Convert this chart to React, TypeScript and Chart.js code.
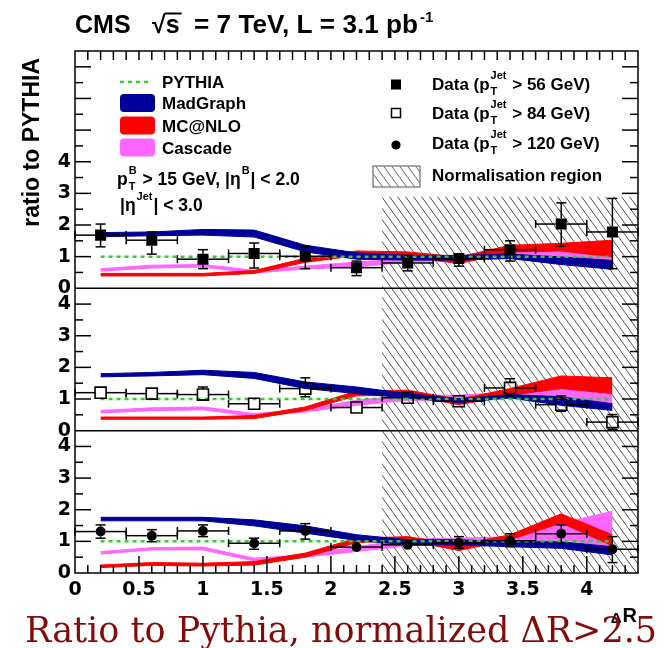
import React, { useEffect, useRef } from 'react';
import { Chart, registerables } from 'chart.js';

Chart.register(...registerables);

// ---- binning and axis labels ----
const binCentres = [0.2, 0.6, 1.0, 1.4, 1.8, 2.2, 2.6, 3.0, 3.4, 3.8, 4.2];
const binHalfWidth = 0.2;
const xTickValues = [0, 0.5, 1, 1.5, 2, 2.5, 3, 3.5, 4];
const yTickValues = [0, 1, 2, 3, 4];
const normRegion = [2.4, 4.4];
const pythiaLevel = 1;

// ---- data: leading jet pT > 56 GeV (upper panel) ----
const data56 = [1.68, 1.52, 0.92, 1.10, 1.01, 0.65, 0.80, 0.94, 1.22, 2.03, 1.78];
const data56Hi = [2.03, 1.78, 1.22, 1.43, 1.33, 0.86, 1.04, 1.10, 1.50, 2.70, 2.84];
const data56Lo = [1.31, 1.08, 0.62, 0.64, 0.62, 0.40, 0.55, 0.70, 0.86, 1.33, 0.62];

// ---- data: pT > 84 GeV (middle panel) ----
const data84 = [1.20, 1.17, 1.14, 0.85, 1.33, 0.73, 1.04, 0.93, 1.35, 0.82, 0.27];
const data84Hi = [1.30, 1.27, 1.38, 0.95, 1.67, 0.83, 1.19, 1.03, 1.64, 1.10, 0.51];
const data84Lo = [1.10, 1.07, 0.96, 0.75, 1.07, 0.63, 0.89, 0.83, 1.10, 0.61, 0.04];

// ---- data: pT > 120 GeV (lower panel) ----
const data120 = [1.31, 1.18, 1.33, 0.94, 1.33, 0.82, 0.89, 0.96, 1.02, 1.24, 0.75];
const data120Hi = [1.52, 1.37, 1.52, 1.10, 1.56, 0.92, 0.99, 1.15, 1.24, 1.52, 1.15];
const data120Lo = [1.10, 0.99, 1.15, 0.75, 1.07, 0.72, 0.79, 0.78, 0.83, 0.94, 0.33];

// ---- MC predictions (ratio to PYTHIA), lower / upper band edges ----
const madgraph56Lo = [1.63, 1.66, 1.68, 1.62, 1.15, 0.92, 0.89, 0.89, 0.94, 0.75, 0.60];
const madgraph56Hi = [1.76, 1.78, 1.86, 1.84, 1.36, 1.12, 1.04, 1.04, 1.08, 0.99, 0.88];
const mcatnlo56Lo = [0.39, 0.39, 0.39, 0.47, 0.82, 1.03, 0.99, 0.78, 1.14, 1.18, 0.99];
const mcatnlo56Hi = [0.47, 0.47, 0.47, 0.56, 0.95, 1.18, 1.15, 0.99, 1.36, 1.42, 1.52];
const cascade56Lo = [0.54, 0.64, 0.67, 0.48, 0.61, 0.67, 0.83, 0.89, 0.99, 0.94, 0.62];
const cascade56Hi = [0.62, 0.73, 0.75, 0.57, 0.70, 0.83, 0.94, 0.99, 1.15, 1.20, 1.15];

const madgraph84Lo = [1.70, 1.73, 1.77, 1.65, 1.33, 1.17, 1.03, 0.89, 1.03, 0.80, 0.64];
const madgraph84Hi = [1.80, 1.84, 1.91, 1.84, 1.54, 1.38, 1.17, 1.01, 1.14, 1.07, 0.85];
const mcatnlo84Lo = [0.36, 0.36, 0.36, 0.38, 0.64, 1.10, 1.12, 0.82, 1.12, 1.33, 1.17];
const mcatnlo84Hi = [0.43, 0.43, 0.43, 0.48, 0.75, 1.25, 1.28, 0.99, 1.33, 1.73, 1.67];
const cascade84Lo = [0.56, 0.63, 0.66, 0.45, 0.59, 0.80, 0.96, 0.96, 1.07, 1.01, 0.70];
const cascade84Hi = [0.64, 0.72, 0.75, 0.54, 0.67, 0.96, 1.12, 1.12, 1.22, 1.41, 1.28];

const madgraph120Lo = [1.65, 1.65, 1.65, 1.49, 1.26, 1.03, 0.89, 0.89, 0.83, 0.78, 0.57];
const madgraph120Hi = [1.76, 1.76, 1.76, 1.68, 1.49, 1.21, 1.05, 1.05, 0.99, 0.99, 0.83];
const mcatnlo120Lo = [0.17, 0.24, 0.22, 0.25, 0.50, 0.96, 1.03, 0.71, 1.05, 1.58, 0.86];
const mcatnlo120Hi = [0.25, 0.33, 0.31, 0.36, 0.63, 1.10, 1.15, 0.89, 1.21, 1.87, 1.21];
const cascade120Lo = [0.60, 0.73, 0.73, 0.38, 0.50, 0.68, 0.86, 0.89, 0.94, 1.05, 0.83];
const cascade120Hi = [0.68, 0.80, 0.82, 0.47, 0.57, 0.83, 1.07, 1.10, 1.15, 1.58, 1.95];

// ---- styling ----
const SANS = '"Liberation Sans", Arial, Helvetica, sans-serif';
const TICK_FONT = '"DejaVu Sans", sans-serif';
const SERIF = '"DejaVu Serif", serif';
const C_MADGRAPH = '#000099';
const C_MCATNLO = '#ff0000';
const C_CASCADE = '#ff66ff';
const C_PYTHIA = '#33cc33';
const HATCH_TOP_PANEL = 2.9;

type Part = string | { sup?: string; sub?: string };

const pts = (ys: number[]) => ys.map((y, i) => ({ x: binCentres[i], y }));

function band(axis: string, lo: number[], hi: number[], colour: string, order: number) {
  return [
    { type: 'line', data: pts(lo), yAxisID: axis, borderColor: colour, borderWidth: 1, pointRadius: 0, fill: false, tension: 0, order },
    { type: 'line', data: pts(hi), yAxisID: axis, borderColor: colour, borderWidth: 1, pointRadius: 0, fill: '-1', backgroundColor: colour, tension: 0, order },
  ];
}

function pythia(axis: string) {
  return {
    type: 'line', yAxisID: axis, order: 1,
    data: [{ x: binCentres[0], y: pythiaLevel }, { x: binCentres[binCentres.length - 1], y: pythiaLevel }],
    borderColor: C_PYTHIA, borderWidth: 2.5, borderDash: [4, 4], pointRadius: 0, fill: false,
  };
}

function measured(axis: string, vals: number[], hi: number[], lo: number[], style: string, filled: boolean) {
  const isRect = style === 'rect';
  return {
    type: 'line', yAxisID: axis, order: 0, showLine: false,
    data: pts(vals),
    pointStyle: style,
    pointRadius: isRect ? 7.8 : 5,
    pointBackgroundColor: filled ? '#000' : 'rgba(0,0,0,0)',
    pointBorderColor: '#000',
    pointBorderWidth: filled ? 0 : 1.6,
    errHi: hi, errLo: lo,
    markerHalf: isRect ? 5.5 : 5,
  };
}

function drawRich(ctx: CanvasRenderingContext2D, parts: Part[], x: number, y: number, size: number) {
  let cx = x;
  const small = Math.round(size * 0.64);
  for (const p of parts) {
    if (typeof p === 'string') {
      ctx.font = `bold ${size}px ${SANS}`;
      ctx.fillText(p, cx, y);
      cx += ctx.measureText(p).width;
    } else {
      ctx.font = `bold ${small}px ${SANS}`;
      let w = 0;
      if (p.sup) {
        ctx.fillText(p.sup, cx + 1, y - size * 0.62);
        w = Math.max(w, ctx.measureText(p.sup).width);
      }
      if (p.sub) {
        ctx.fillText(p.sub, cx + 1, y + size * 0.3);
        w = Math.max(w, ctx.measureText(p.sub).width);
      }
      cx += w + 2;
    }
  }
  return cx - x;
}

function fitText(ctx: CanvasRenderingContext2D, text: string, x: number, y: number, width: number) {
  const w = ctx.measureText(text).width;
  ctx.save();
  ctx.translate(x, y);
  ctx.scale(width / w, 1);
  ctx.fillText(text, 0, 0);
  ctx.restore();
}

function line(ctx: CanvasRenderingContext2D, x0: number, y0: number, x1: number, y1: number) {
  ctx.beginPath();
  ctx.moveTo(x0, y0);
  ctx.lineTo(x1, y1);
  ctx.stroke();
}

function hatch(ctx: CanvasRenderingContext2D, x0: number, x1: number, y0: number, y1: number, colour = '#555') {
  const slope = 0.72;
  const step = 8;
  ctx.save();
  ctx.beginPath();
  ctx.rect(x0, y0, x1 - x0, y1 - y0);
  ctx.clip();
  ctx.strokeStyle = colour;
  ctx.lineWidth = 1;
  ctx.beginPath();
  // lines x - slope*y = c, shared phase so panels line up
  const cMin = x0 - slope * y1 - step;
  const cMax = x1 - slope * y0 + step;
  for (let c = Math.floor(cMin / step) * step; c <= cMax; c += step) {
    ctx.moveTo(c + slope * y0, y0);
    ctx.lineTo(c + slope * y1, y1);
  }
  ctx.stroke();
  ctx.restore();
}

const decorations = {
  id: 'cmsDecorations',
  beforeDatasetsDraw(chart: any) {
    const ctx: CanvasRenderingContext2D = chart.ctx;
    const xs = chart.scales.x;
    const x0 = xs.getPixelForValue(normRegion[0]);
    const x1 = xs.getPixelForValue(normRegion[1]);
    const top = chart.scales.yTop;
    hatch(ctx, x0, x1, top.getPixelForValue(HATCH_TOP_PANEL), top.getPixelForValue(0));
    for (const id of ['yMid', 'yBot']) {
      const s = chart.scales[id];
      hatch(ctx, x0, x1, s.getPixelForValue(s.max), s.getPixelForValue(0));
    }
  },
  beforeDatasetDraw(chart: any, args: any) {
    const ds = chart.data.datasets[args.index];
    if (!ds.errHi) return;
    const ctx: CanvasRenderingContext2D = chart.ctx;
    const xs = chart.scales.x;
    const ys = chart.scales[ds.yAxisID];
    const h = ds.markerHalf;
    ctx.save();
    ctx.strokeStyle = '#000';
    ctx.lineWidth = 1.5;
    ds.data.forEach((p: any, i: number) => {
      const px = xs.getPixelForValue(p.x);
      const py = ys.getPixelForValue(p.y);
      const yHi = ys.getPixelForValue(ds.errHi[i]);
      const yLo = ys.getPixelForValue(ds.errLo[i]);
      const xL = xs.getPixelForValue(p.x - binHalfWidth);
      const xR = xs.getPixelForValue(p.x + binHalfWidth);
      if (yHi < py - h) {
        line(ctx, px, py - h, px, yHi);
        line(ctx, px - 5, yHi, px + 5, yHi);
      }
      if (yLo > py + h) {
        line(ctx, px, py + h, px, yLo);
        line(ctx, px - 5, yLo, px + 5, yLo);
      }
      line(ctx, xL, py, px - h, py);
      line(ctx, px + h, py, xR, py);
      line(ctx, xL, py - 4, xL, py + 4);
      line(ctx, xR, py - 4, xR, py + 4);
    });
    ctx.restore();
  },
  afterDraw(chart: any) {
    const ctx: CanvasRenderingContext2D = chart.ctx;
    const { left, right, top, bottom } = chart.chartArea;
    const xs = chart.scales.x;
    ctx.save();
    ctx.strokeStyle = '#000';
    ctx.lineWidth = 1.5;
    ctx.strokeRect(left, top, right - left, bottom - top);
    // panel separators
    for (const id of ['yMid', 'yBot']) {
      const y = chart.scales[id].getPixelForValue(chart.scales[id].max);
      line(ctx, left, y, right, y);
    }
    // y ticks (inward, both sides)
    for (const id of ['yTop', 'yMid', 'yBot']) {
      const s = chart.scales[id];
      for (let v = 0.5; v < s.max - 1e-6; v += 0.5) {
        const py = s.getPixelForValue(v);
        const len = Number.isInteger(v) ? 16 : 8;
        line(ctx, left, py, left + len, py);
        line(ctx, right, py, right - len, py);
      }
    }
    // x ticks (inward, bottom and top)
    for (let i = 1; i < 44; i++) {
      const v = i / 10;
      const px = xs.getPixelForValue(v);
      const len = i % 5 === 0 ? 17 : 8;
      line(ctx, px, bottom, px, bottom - len);
      line(ctx, px, top, px, top + 9);
    }

    // header
    ctx.fillStyle = '#000';
    ctx.textAlign = 'left';
    ctx.textBaseline = 'alphabetic';
    ctx.font = `bold 25px ${SANS}`;
    ctx.fillText('CMS', 75, 33);
    ctx.fillText('\u221A', 152, 33);
    const sx = 152 + ctx.measureText('\u221A').width;
    ctx.fillText('s', sx, 33);
    const sw = ctx.measureText('s').width;
    ctx.lineWidth = 2;
    line(ctx, sx - 1, 13.5, sx + sw + 2, 13.5);
    fitText(ctx, '= 7 TeV, L = 3.1 pb', 194, 33, 224);
    ctx.font = `bold 15px ${SANS}`;
    ctx.fillText('-1', 420, 22);

    // y axis title
    ctx.save();
    ctx.translate(33, 58);
    ctx.rotate(-Math.PI / 2);
    ctx.font = `bold 23px ${SANS}`;
    ctx.textAlign = 'right';
    ctx.textBaseline = 'middle';
    ctx.fillText('ratio to PYTHIA', 0, 0);
    ctx.restore();

    // legend, left column
    ctx.strokeStyle = C_PYTHIA;
    ctx.lineWidth = 2.5;
    ctx.setLineDash([4, 4]);
    line(ctx, 120, 82, 152, 82);
    ctx.setLineDash([]);
    const swatches: [string, number][] = [[C_MADGRAPH, 103], [C_MCATNLO, 125.5], [C_CASCADE, 147.5]];
    for (const [c, cy] of swatches) {
      ctx.fillStyle = c;
      ctx.beginPath();
      ctx.roundRect(120, cy - 9, 35, 18, 4);
      ctx.fill();
    }
    ctx.fillStyle = '#000';
    ctx.font = `bold 17px ${SANS}`;
    ctx.fillText('PYTHIA', 162, 88);
    ctx.fillText('MadGraph', 162, 109);
    ctx.fillText('MC@NLO', 162, 132);
    ctx.fillText('Cascade', 162, 154);
    drawRich(ctx, ['p', { sup: 'B', sub: 'T' }, ' > 15 GeV, |\u03B7', { sup: 'B' }, '| < 2.0'], 117, 185, 17.5);
    drawRich(ctx, ['|\u03B7', { sup: 'Jet' }, '| < 3.0'], 120, 211, 17.5);

    // legend, right column
    ctx.fillStyle = '#000';
    ctx.fillRect(391, 79.5, 10, 10);
    ctx.strokeStyle = '#000';
    ctx.lineWidth = 1.5;
    ctx.strokeRect(391.5, 108.5, 9, 9);
    ctx.beginPath();
    ctx.arc(396, 145, 4.6, 0, Math.PI * 2);
    ctx.fill();
    drawRich(ctx, ['Data (p', { sup: 'Jet', sub: 'T' }, ' > 56 GeV)'], 432, 90, 17);
    drawRich(ctx, ['Data (p', { sup: 'Jet', sub: 'T' }, ' > 84 GeV)'], 432, 119, 17);
    drawRich(ctx, ['Data (p', { sup: 'Jet', sub: 'T' }, ' > 120 GeV)'], 432, 149, 17);
    hatch(ctx, 373, 420, 166, 187, '#666');
    ctx.strokeStyle = '#888';
    ctx.lineWidth = 1.5;
    ctx.strokeRect(373, 166, 47, 21);
    ctx.fillStyle = '#000';
    ctx.font = `bold 17px ${SANS}`;
    ctx.fillText('Normalisation region', 432, 181);

    // x axis title
    ctx.textAlign = 'right';
    ctx.font = `bold 20px ${SANS}`;
    ctx.fillText('R', 637, 622);
    const rw = ctx.measureText('R').width;
    ctx.font = `bold 15px ${SANS}`;
    ctx.fillText('\u0394', 637 - rw - 1, 623);

    // caption
    ctx.textAlign = 'left';
    ctx.fillStyle = '#840a0a';
    ctx.font = `35px ${SERIF}`;
    ctx.fillText('Ratio to Pythia, normalized \u0394R>2.5', 25, 642);
    ctx.restore();
  },
};

function yAxis(max: number) {
  return {
    type: 'linear',
    position: 'left',
    stack: 'panels',
    stackWeight: max,
    min: 0,
    max,
    grid: { display: false, drawTicks: false },
    border: { display: false },
    ticks: {
      stepSize: 1,
      includeBounds: false,
      autoSkip: false,
      padding: 4,
      color: '#000',
      font: { family: TICK_FONT, weight: 'bold', size: 19 },
      callback: (v: number) => (yTickValues.includes(v) ? String(v) : ''),
    },
    afterFit: (s: any) => {
      s.width = 75;
    },
  };
}

export default function App() {
  const ref = useRef<HTMLCanvasElement>(null);

  useEffect(() => {
    const canvas = ref.current;
    if (!canvas) return;

    const datasets: any[] = [
      measured('yTop', data56, data56Hi, data56Lo, 'rect', true),
      measured('yMid', data84, data84Hi, data84Lo, 'rect', false),
      measured('yBot', data120, data120Hi, data120Lo, 'circle', true),
      pythia('yTop'),
      pythia('yMid'),
      pythia('yBot'),
      ...band('yTop', madgraph56Lo, madgraph56Hi, C_MADGRAPH, 2),
      ...band('yTop', mcatnlo56Lo, mcatnlo56Hi, C_MCATNLO, 3),
      ...band('yTop', cascade56Lo, cascade56Hi, C_CASCADE, 4),
      ...band('yMid', madgraph84Lo, madgraph84Hi, C_MADGRAPH, 2),
      ...band('yMid', mcatnlo84Lo, mcatnlo84Hi, C_MCATNLO, 3),
      ...band('yMid', cascade84Lo, cascade84Hi, C_CASCADE, 4),
      ...band('yBot', madgraph120Lo, madgraph120Hi, C_MADGRAPH, 2),
      ...band('yBot', mcatnlo120Lo, mcatnlo120Hi, C_MCATNLO, 3),
      ...band('yBot', cascade120Lo, cascade120Hi, C_CASCADE, 4),
    ];

    const chart = new Chart(canvas, {
      type: 'line',
      data: { datasets },
      plugins: [decorations],
      options: {
        animation: false,
        responsive: false,
        maintainAspectRatio: false,
        devicePixelRatio: 1,
        layout: { padding: { left: 0, right: 26, top: 51, bottom: 0 } },
        plugins: {
          legend: { display: false },
          tooltip: { enabled: false },
          title: { display: false },
        },
        scales: {
          x: {
            type: 'linear',
            position: 'bottom',
            min: 0,
            max: 4.4,
            grid: { display: false, drawTicks: false },
            border: { display: false },
            ticks: {
              stepSize: 0.5,
              includeBounds: false,
              autoSkip: false,
              maxRotation: 0,
              padding: 6,
              color: '#000',
              font: { family: TICK_FONT, weight: 'bold', size: 19 },
              callback: (v: number) => {
                const r = Math.round(v * 10) / 10;
                return xTickValues.includes(r) ? String(r) : '';
              },
            },
            afterFit: (s: any) => {
              s.height = 75;
            },
          },
          yBot: yAxis(4.5),
          yMid: yAxis(4.5),
          yTop: yAxis(7.5),
        } as any,
      },
    } as any);

    return () => chart.destroy();
  }, []);

  return (
    <div style={{ position: 'absolute', left: 0, top: 0, width: 664, height: 648, background: '#fff' }}>
      <canvas ref={ref} width={664} height={648} style={{ display: 'block', width: 664, height: 648 }} />
    </div>
  );
}
